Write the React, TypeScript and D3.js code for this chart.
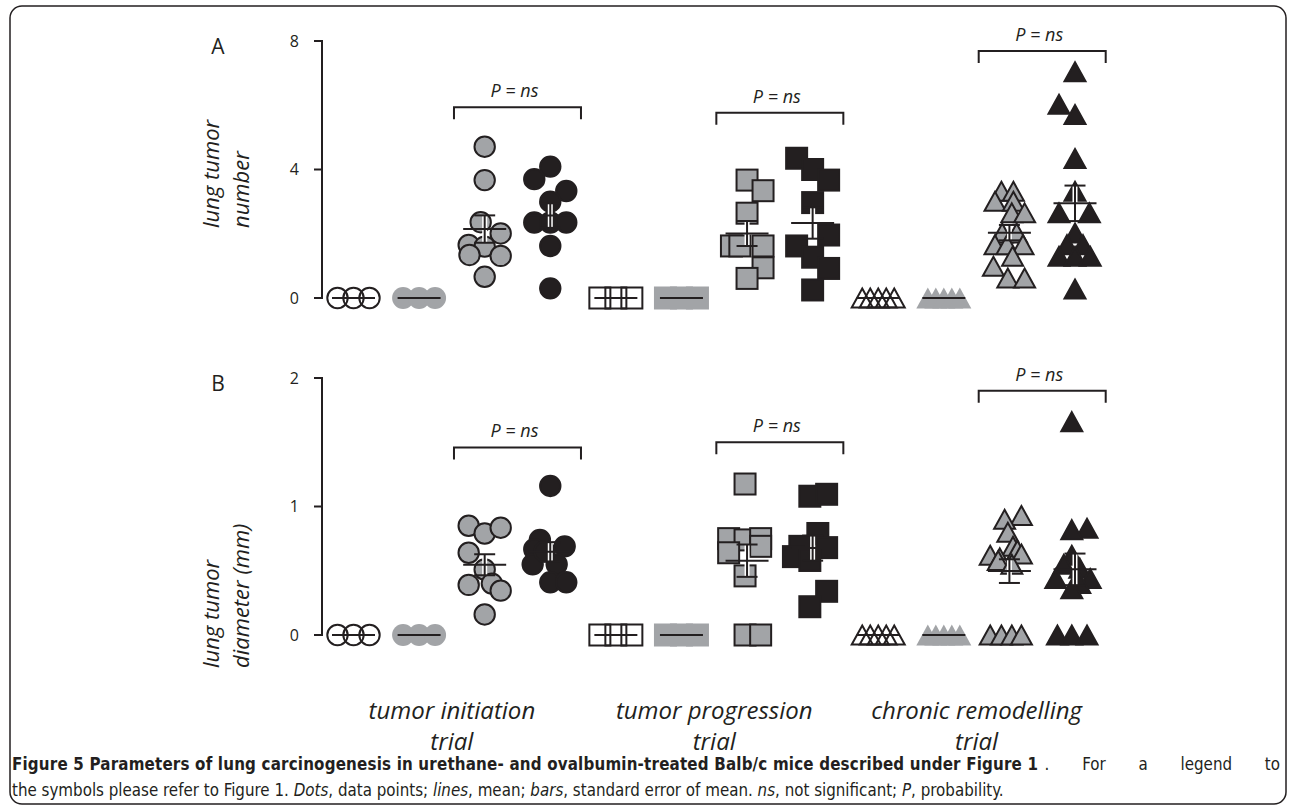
import React from "react";
import * as d3 from "d3";

const W = 1292;
const H = 809;

// ---------- categories ----------
const groupIds = [
  "init-open", "init-greyplain", "init-grey", "init-black",
  "prog-open", "prog-greyplain", "prog-grey", "prog-black",
  "chron-open", "chron-greyplain", "chron-grey", "chron-black",
];
const trialLines1 = ["tumor initiation", "tumor progression", "chronic remodelling"];
const trialLines2 = ["trial", "trial", "trial"];
const numberTicks = [0, 4, 8];
const diameterTicks = [0, 1, 2];
const numberBracketLevels = [5.94, 5.77, 7.69];
const diameterBracketLevels = [1.46, 1.5, 1.9];

// ---------- panel A: lung tumor number ----------
const aInitOpen = [0, 0, 0];
const aInitOpenSlot = [-2, 0, 2];
const aInitGreyPlain = [0, 0, 0];
const aInitGreyPlainSlot = [-2, 0, 2];
const aInitGrey = [4.71, 3.67, 2.36, 2.01, 1.65, 1.6, 1.34, 1.31, 0.66];
const aInitGreySlot = [0, 0, -0.5, 2, -2, 0, -1.9, 2, 0];
const aInitBlack = [4.09, 3.7, 3.33, 3.0, 2.35, 2.35, 2.35, 1.62, 0.3];
const aInitBlackSlot = [0, -2, 2, 0, -2, 0, 2, 0, 0];
const aProgOpen = [0, 0, 0];
const aProgOpenSlot = [-2, 0, 2];
const aProgGreyPlain = [0, 0, 0];
const aProgGreyPlainSlot = [-2, 0, 2];
const aProgGrey = [3.67, 3.34, 2.64, 1.62, 1.62, 1.62, 0.94, 0.61];
const aProgGreySlot = [0, 2, 0, -1.95, -0.9, 2, 2, 0];
const aProgBlack = [4.35, 4.0, 3.67, 2.97, 1.96, 1.62, 1.27, 0.92, 0.25];
const aProgBlackSlot = [-2, 0, 2, 0, 2, -2, 0, 2, 0];
const aChronOpen = [0, 0, 0, 0, 0];
const aChronOpenSlot = [-2, -1, 0, 1, 2];
const aChronGreyPlain = [0, 0, 0, 0, 0];
const aChronGreyPlainSlot = [-2, -1, 0, 1, 2];
const aChronGrey = [3.32, 3.32, 3.01, 3.01, 2.65, 2.65, 2.02, 2.02, 1.66, 1.66, 1.66, 1.3, 0.99, 0.62, 0.62];
const aChronGreySlot = [-1, 0.5, -1.8, 0.5, 0.3, 1.9, -0.9, 0.9, -1.8, -0.3, 1.7, 0.4, -2, -0.2, 1.9];
const aChronBlack = [7.04, 6.03, 5.71, 4.34, 3.32, 2.65, 2.65, 2.02, 1.66, 1.66, 1.3, 1.3, 1.3, 0.28];
const aChronBlackSlot = [0, -2, 0, 0, 0, -2, 1.8, 0, -1, 1, -2, 0, 1.9, 0];

// ---------- panel B: lung tumor diameter (mm) ----------
const bInitOpen = [0, 0, 0];
const bInitOpenSlot = [-2, 0, 2];
const bInitGreyPlain = [0, 0, 0];
const bInitGreyPlainSlot = [-2, 0, 2];
const bInitGrey = [0.85, 0.79, 0.835, 0.64, 0.51, 0.39, 0.4, 0.345, 0.16];
const bInitGreySlot = [-2, 0, 2, -2, 0, -2, 0.9, 2, 0];
const bInitBlack = [1.16, 0.74, 0.667, 0.69, 0.55, 0.55, 0.41, 0.41, 0.65];
const bInitBlackSlot = [0, -1.3, -2, 1.8, -2.2, 0.8, 0, 2, -0.7];
const bProgOpen = [0, 0, 0];
const bProgOpenSlot = [-2, 0, 2];
const bProgGreyPlain = [0, 0, 0];
const bProgGreyPlainSlot = [-2, 0, 2];
const bProgGrey = [1.175, 0.75, 0.74, 0.75, 0.64, 0.69, 0.46, 0, 0];
const bProgGreySlot = [-0.25, -2.3, -0.25, 1.7, -2.3, 1.7, -0.25, -0.25, 1.7];
const bProgBlack = [1.08, 1.095, 0.79, 0.69, 0.68, 0.61, 0.58, 0.34, 0.22];
const bProgBlackSlot = [-0.35, 1.75, 0.65, -1.6, 1.75, -2.4, -0.35, 1.75, -0.35];
const bChronOpen = [0, 0, 0, 0, 0];
const bChronOpenSlot = [-2, -1, 0, 1, 2];
const bChronGreyPlain = [0, 0, 0, 0, 0];
const bChronGreyPlainSlot = [-2, -1, 0, 1, 2];
const bChronGrey = [0.93, 0.9, 0.8, 0.69, 0.66, 0.63, 0.62, 0.6, 0.58, 0.55, 0, 0, 0, 0];
const bChronGreySlot = [1.5, -0.6, -0.2, 0.45, 1.0, 1.5, -2.4, -1.2, -1.4, 0.3, -2.4, -1, 0.3, 1.5];
const bChronBlack = [1.66, 0.83, 0.82, 0.62, 0.55, 0.52, 0.44, 0.44, 0.4, 0.36, 0, 0, 0];
const bChronBlackSlot = [-0.4, 1.5, -0.4, -0.4, -1.4, 0.6, -2.4, 1.9, 0.6, -0.4, -2.2, -0.4, 1.5];

const panelAValues = [aInitOpen, aInitGreyPlain, aInitGrey, aInitBlack, aProgOpen, aProgGreyPlain, aProgGrey, aProgBlack, aChronOpen, aChronGreyPlain, aChronGrey, aChronBlack];
const panelASlots = [aInitOpenSlot, aInitGreyPlainSlot, aInitGreySlot, aInitBlackSlot, aProgOpenSlot, aProgGreyPlainSlot, aProgGreySlot, aProgBlackSlot, aChronOpenSlot, aChronGreyPlainSlot, aChronGreySlot, aChronBlackSlot];
const panelBValues = [bInitOpen, bInitGreyPlain, bInitGrey, bInitBlack, bProgOpen, bProgGreyPlain, bProgGrey, bProgBlack, bChronOpen, bChronGreyPlain, bChronGrey, bChronBlack];
const panelBSlots = [bInitOpenSlot, bInitGreyPlainSlot, bInitGreySlot, bInitBlackSlot, bProgOpenSlot, bProgGreyPlainSlot, bProgGreySlot, bProgBlackSlot, bChronOpenSlot, bChronGreyPlainSlot, bChronGreySlot, bChronBlackSlot];

// ---------- styling ----------
const INK = "#231f20";
const GREY = "#a2a4a7";
const FONT = "'Open Sans', 'DejaVu Sans', sans-serif";
const CAPFONT = "'Liberation Sans Narrow', 'DejaVu Sans Condensed', 'Open Sans', sans-serif";

const xScale = d3.scalePoint<string>().domain(groupIds).range([353.5, 1075]);
const jitter = d3.scaleLinear().domain([-1, 1]).range([-8, 8]);

function shapeOf(i: number) {
  return ["circle", "square", "triangle"][Math.floor(i / 4)];
}
function styleOf(i: number) {
  return ["open", "greyplain", "grey", "black"][i % 4];
}

function Marker({ shape, style, cx, cy }: { shape: string; style: string; cx: number; cy: number }) {
  const plain = style === "greyplain";
  const fill = style === "open" ? "none" : style === "black" ? INK : GREY;
  const stroke = plain ? "none" : INK;
  const sw = 2;
  if (shape === "circle") {
    const r = plain ? 11 : 10.2;
    return <circle cx={cx} cy={cy} r={r} fill={fill} stroke={stroke} strokeWidth={sw} />;
  }
  if (shape === "square") {
    const s = plain ? 23 : 21;
    return <rect x={cx - s / 2} y={cy - s / 2} width={s} height={s} fill={fill} stroke={stroke} strokeWidth={sw} />;
  }
  const w = plain ? 23 : 21;
  const h = plain ? 21 : 19;
  const p = d3.path();
  p.moveTo(cx, cy - h / 2);
  p.lineTo(cx + w / 2, cy + h / 2);
  p.lineTo(cx - w / 2, cy + h / 2);
  p.closePath();
  return <path d={p.toString()} fill={fill} stroke={stroke} strokeWidth={sw} strokeLinejoin="miter" />;
}

function Panel({
  values, slots, y, ticks, brackets, label, titleLines, titleStart,
}: {
  values: number[][]; slots: number[][]; y: d3.ScaleLinear<number, number>; ticks: number[];
  brackets: number[]; label: string; titleLines: string[]; titleStart: number;
}) {
  const axisX = 322;
  const top = y(ticks[ticks.length - 1]);
  return (
    <g>
      <text x={218} y={top + 13} fontFamily={FONT} fontSize={21} fill={INK} textAnchor="middle">{label}</text>
      {titleLines.map((t, k) => (
        <text key={k} transform={`translate(${219 + k * 30},${titleStart}) rotate(-90)`} fontFamily={FONT}
          fontStyle="italic" fontSize={22} fill={INK}>{t}</text>
      ))}
      <path d={`M${axisX - 8},${y(ticks[0])}H${axisX}V${top}H${axisX - 8}`} fill="none" stroke={INK} strokeWidth={2} />
      {ticks.map((t) => (
        <g key={t}>
          <line x1={axisX - 8} x2={axisX} y1={y(t)} y2={y(t)} stroke={INK} strokeWidth={2} />
          <text x={axisX - 23} y={y(t)} dy="0.36em" textAnchor="end" fontFamily={FONT} fontSize={16} fill={INK}>{t}</text>
        </g>
      ))}
      {values.map((vals, gi) => {
        const gx = xScale(groupIds[gi]) as number;
        return (
          <g key={gi}>
            {vals.map((v, k) => (
              <Marker key={k} shape={shapeOf(gi)} style={styleOf(gi)} cx={gx + jitter(slots[gi][k])} cy={y(v)} />
            ))}
          </g>
        );
      })}
      {values.map((vals, gi) => {
        const gx = xScale(groupIds[gi]) as number;
        const m = d3.mean(vals) as number;
        const sd = d3.deviation(vals) || 0;
        const se = sd / Math.sqrt(vals.length);
        return (
          <g key={"m" + gi} stroke={INK} strokeWidth={2}>
            {se > 0 && (
              <g>
                <line x1={gx} x2={gx} y1={y(m - se)} y2={y(m + se)} stroke="#fff" strokeWidth={5} />
                <line x1={gx} x2={gx} y1={y(m - se)} y2={y(m + se)} />
                <line x1={gx - 10.5} x2={gx + 10.5} y1={y(m + se)} y2={y(m + se)} />
                <line x1={gx - 10.5} x2={gx + 10.5} y1={y(m - se)} y2={y(m - se)} />
              </g>
            )}
            <line x1={gx - 21.5} x2={gx + 21.5} y1={y(m)} y2={y(m)} />
          </g>
        );
      })}
      {brackets.map((lvl, t) => {
        const xa = xScale(groupIds[t * 4 + 2]) as number;
        const xb = xScale(groupIds[t * 4 + 3]) as number;
        const mid = (xa + xb) / 2;
        const by = y(lvl);
        return (
          <g key={"b" + t}>
            <path d={`M${mid - 63.5},${by + 12}V${by}H${mid + 63.5}V${by + 12}`} fill="none" stroke={INK} strokeWidth={2} />
            <text x={mid - 3} y={by - 10} textAnchor="middle" fontFamily={FONT} fontStyle="italic" fontSize={18} fill={INK}>P = ns</text>
          </g>
        );
      })}
    </g>
  );
}

export default function App() {
  const yA = d3.scaleLinear().domain([0, 8]).range([298, 41]);
  const yB = d3.scaleLinear().domain([0, 2]).range([635, 378]);
  const trialCenters = [0, 1, 2].map((t) => {
    const a = xScale(groupIds[t * 4]) as number;
    const b = xScale(groupIds[t * 4 + 3]) as number;
    return (a + b) / 2;
  });
  return (
    <svg width={W} height={H} viewBox={`0 0 ${W} ${H}`} style={{ position: "absolute", left: 0, top: 0, background: "#fff" }}>
      <rect x={0} y={0} width={W} height={H} fill="#fff" />
      <rect x={10} y={6} width={1276} height={798} rx={12} ry={12} fill="none" stroke={INK} strokeWidth={1.5} />
      <Panel values={panelAValues} slots={panelASlots} y={yA} ticks={numberTicks} brackets={numberBracketLevels}
        label="A" titleLines={["lung tumor", "number"]} titleStart={228} />
      <Panel values={panelBValues} slots={panelBSlots} y={yB} ticks={diameterTicks} brackets={diameterBracketLevels}
        label="B" titleLines={["lung tumor", "diameter (mm)"]} titleStart={668} />
      {trialLines1.map((t, k) => (
        <g key={k}>
          <text x={trialCenters[k]} y={719} textAnchor="middle" fontFamily={FONT} fontStyle="italic" fontSize={24} fill={INK}>{t}</text>
          <text x={trialCenters[k]} y={750} textAnchor="middle" fontFamily={FONT} fontStyle="italic" fontSize={24} fill={INK}>{trialLines2[k]}</text>
        </g>
      ))}
      <text x={12} y={770} fontFamily={CAPFONT} fontSize={16.8} fontWeight="bold" fill={INK} textLength={1026} lengthAdjust="spacing">
        Figure 5 Parameters of lung carcinogenesis in urethane- and ovalbumin-treated Balb/c mice described under Figure 1
      </text>
      <text x={1280} y={770} fontFamily={CAPFONT} fontSize={16.8} fill={INK} textAnchor="end" wordSpacing={28}>
        . For a legend to
      </text>
      <text x={12} y={796} fontFamily={CAPFONT} fontSize={16.8} fill={INK}>
        <tspan>the symbols please refer to Figure 1. </tspan>
        <tspan fontStyle="italic">Dots</tspan><tspan>, data points; </tspan>
        <tspan fontStyle="italic">lines</tspan><tspan>, mean; </tspan>
        <tspan fontStyle="italic">bars</tspan><tspan>, standard error of mean. </tspan>
        <tspan fontStyle="italic">ns</tspan><tspan>, not significant; </tspan>
        <tspan fontStyle="italic">P</tspan><tspan>, probability.</tspan>
      </text>
    </svg>
  );
}
